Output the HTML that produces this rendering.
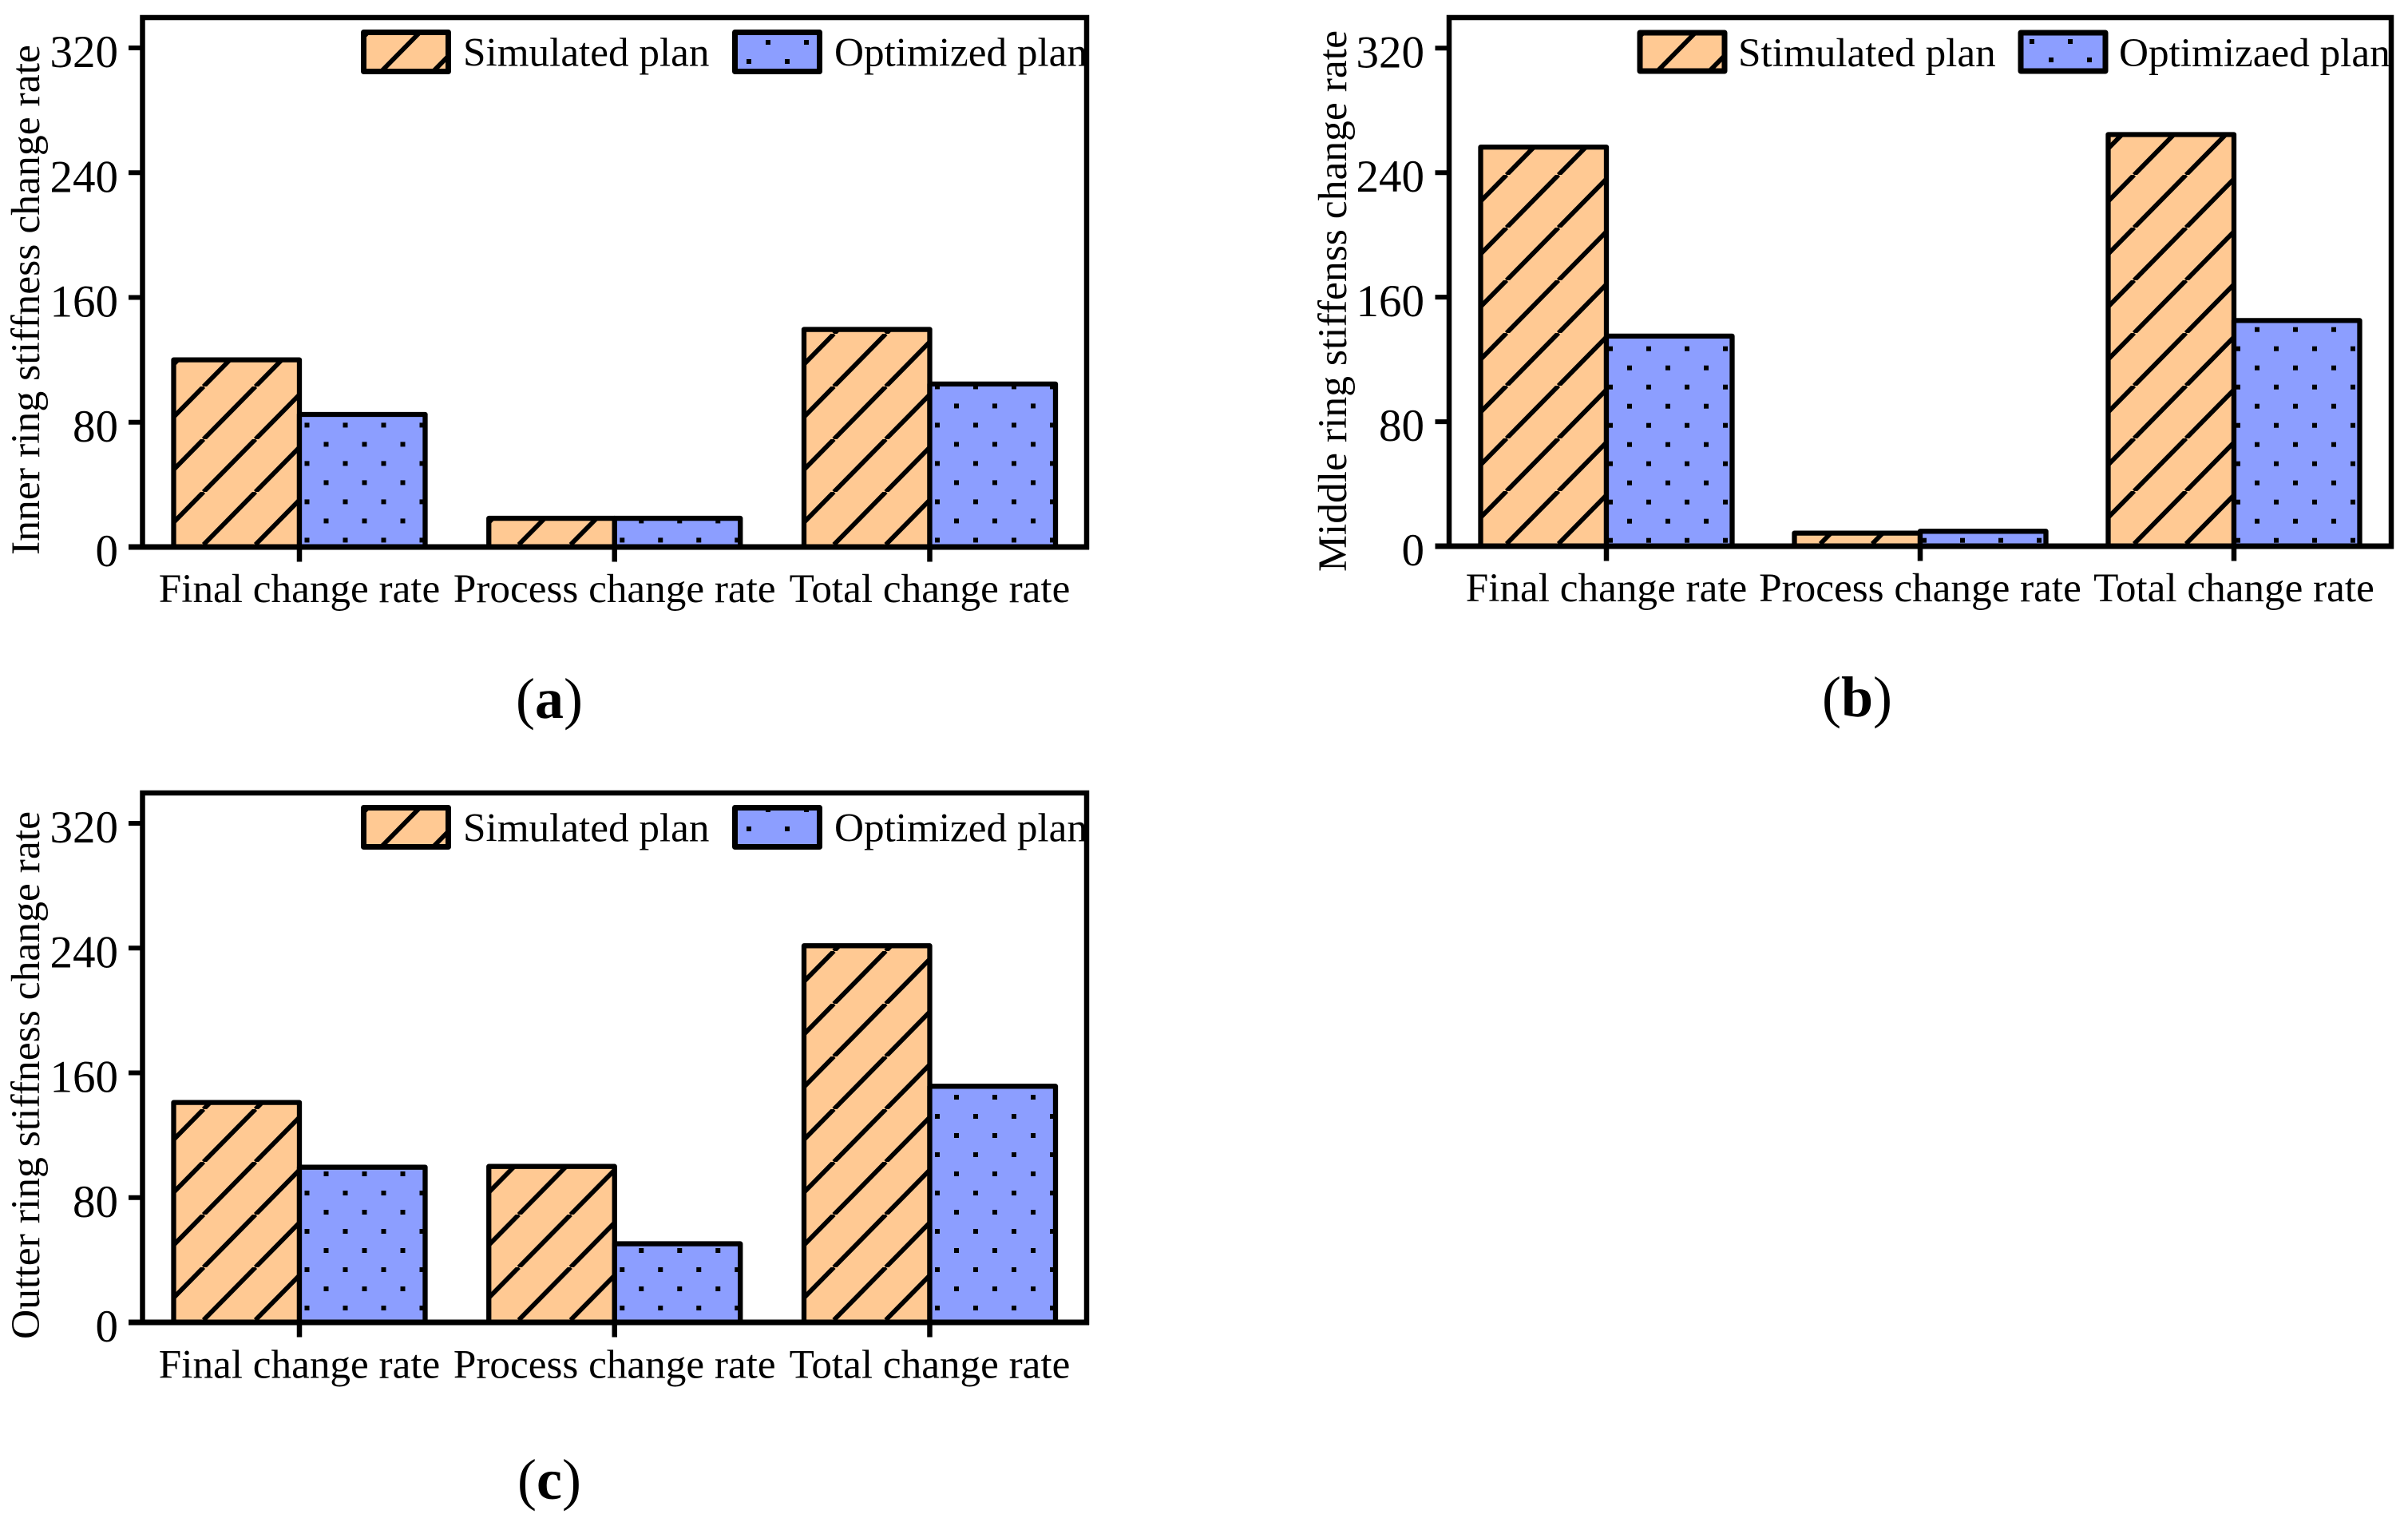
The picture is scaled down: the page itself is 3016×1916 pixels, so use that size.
<!DOCTYPE html>
<html lang="en">
<head>
<meta charset="utf-8">
<title>Ring stiffness change rate charts</title>
<style>
html,body{margin:0;padding:0;background:#fff;}
svg{display:block;}
text{font-family:"Liberation Serif","Times New Roman",serif;fill:#000;}
.leg,.xl{font-size:51.2px;}
.ttl{font-size:51px;}
.yl{font-size:57px;text-anchor:end;}
.cap{font-size:72px;text-anchor:middle;}
.frame{fill:none;stroke:#000;stroke-width:6.5;}
.sw{stroke:#000;stroke-width:7;stroke-linejoin:round;}
.hl{stroke:#000;stroke-width:5.8;fill:none;}
</style>
</head>
<body>
<svg id="root" xmlns="http://www.w3.org/2000/svg" width="3016" height="1916" viewBox="0 0 3016 1916">
<rect width="3016" height="1916" fill="#fff"/>
<defs id="defs">
  <pattern id="lh-a" patternUnits="userSpaceOnUse" x="455.5" y="23" width="65" height="66"><rect width="65" height="66" fill="#FFC993"/><path class="hl" d="M-42.5 66L22.5 0M22.5 66L87.5 0"/></pattern>
  <pattern id="ld-a" patternUnits="userSpaceOnUse" x="920.5" y="41" width="48" height="48"><rect width="48" height="48" fill="#8C9EFF"/><rect x="14.5" y="33" width="6" height="6"/><rect x="38.5" y="9" width="6" height="6"/></pattern>
  <pattern id="lh-b" patternUnits="userSpaceOnUse" x="2054" y="23" width="65" height="66"><rect width="65" height="66" fill="#FFC993"/><path class="hl" d="M-43 66L22 0M22 66L87 0"/></pattern>
  <pattern id="ld-b" patternUnits="userSpaceOnUse" x="2531" y="39" width="48" height="48"><rect width="48" height="48" fill="#8C9EFF"/><rect x="35" y="33" width="6" height="6"/><rect x="11" y="10" width="6" height="6"/></pattern>
  <pattern id="lh-c" patternUnits="userSpaceOnUse" x="455.5" y="994" width="65" height="66"><rect width="65" height="66" fill="#FFC993"/><path class="hl" d="M-42.5 66L22.5 0M22.5 66L87.5 0"/></pattern>
  <pattern id="ld-c" patternUnits="userSpaceOnUse" x="920.5" y="1002" width="48" height="48"><rect width="48" height="48" fill="#8C9EFF"/><rect x="14.5" y="33" width="6" height="6"/><rect x="38.5" y="9" width="6" height="6"/></pattern>
</defs>

<g id="panel-a">
  <g id="marks-a"></g>
  <rect class="frame" x="178.5" y="22" width="1182.5" height="663"/>
  <g id="axes-a"></g>
  <text class="ttl" transform="translate(49,695) rotate(-90)" textLength="639" lengthAdjust="spacingAndGlyphs">Inner ring stiffness change rate</text>
  <rect class="sw" x="455.5" y="40.5" width="106" height="49" fill="url(#lh-a)"/>
  <text class="leg" x="580" y="82.5">Simulated plan</text>
  <rect class="sw" x="920.5" y="40.5" width="106" height="49" fill="url(#ld-a)"/>
  <text class="leg" x="1045" y="82.5">Optimized plan</text>
  <text class="cap" x="688" y="899">(<tspan font-weight="bold">a</tspan>)</text>
</g>

<g id="panel-b">
  <g id="marks-b"></g>
  <rect class="frame" x="1815" y="22" width="1180" height="662"/>
  <g id="axes-b"></g>
  <text class="ttl" transform="translate(1686,716) rotate(-90)" textLength="678" lengthAdjust="spacingAndGlyphs">Middle ring stiffenss change rate</text>
  <rect class="sw" x="2054" y="41" width="106" height="48" fill="url(#lh-b)"/>
  <text class="leg" x="2177" y="83">Stimulated plan</text>
  <rect class="sw" x="2531" y="41" width="106" height="48" fill="url(#ld-b)"/>
  <text class="leg" x="2654" y="83">Optimizaed plan</text>
  <text class="cap" x="2326" y="897">(<tspan font-weight="bold">b</tspan>)</text>
</g>

<g id="panel-c">
  <g id="marks-c"></g>
  <rect class="frame" x="178.5" y="993" width="1182.5" height="663"/>
  <g id="axes-c"></g>
  <text class="ttl" transform="translate(49,1677) rotate(-90)" textLength="661" lengthAdjust="spacingAndGlyphs">Outter ring stiffness change rate</text>
  <rect class="sw" x="455.5" y="1011.5" width="106" height="49" fill="url(#lh-c)"/>
  <text class="leg" x="580" y="1053.5">Simulated plan</text>
  <rect class="sw" x="920.5" y="1011.5" width="106" height="49" fill="url(#ld-c)"/>
  <text class="leg" x="1045" y="1053.5">Optimized plan</text>
  <text class="cap" x="688" y="1877">(<tspan font-weight="bold">c</tspan>)</text>
</g>
</svg>

<script>
// Data
const categories = ['Final change rate', 'Process change rate', 'Total change rate'];
const yTicks = [0, 80, 160, 240, 320];
const innerSimulated = [120, 18.4, 139.5];
const innerOptimized = [85, 18.4, 104.5];
const middleSimulated = [256.4, 8.4, 264.5];
const middleOptimized = [135, 9.6, 145];
const outerSimulated = [141, 100, 241.5];
const outerOptimized = [99.5, 50.4, 151.4];

// Panel geometry
const panelA = {id:'a', sim:innerSimulated, opt:innerOptimized, left:178.5, y0:685, y320:60, barLeft:217.5, barW:157.5, step:394.75, tickLabelX:148, labelBase:754, hatchPhase:37.5, dotX:9.5, dotY:8.6};
const panelB = {id:'b', sim:middleSimulated, opt:middleOptimized, left:1815, y0:684, y320:60.3, barLeft:1854.5, barW:157.5, step:393, tickLabelX:1784, labelBase:753, hatchPhase:32.5, dotX:5, dotY:7.3};
const panelC = {id:'c', sim:outerSimulated, opt:outerOptimized, left:178.5, y0:1656, y320:1031, barLeft:217.5, barW:157.5, step:394.75, tickLabelX:148, labelBase:1725.5, hatchPhase:37.5, dotX:9.5, dotY:18};

const NS = 'http://www.w3.org/2000/svg';
const defs = document.getElementById('defs');

function make(tag, attrs) {
  const el = document.createElementNS(NS, tag);
  for (const k in attrs) el.setAttribute(k, attrs[k]);
  return el;
}
function yScale(p, v) { return p.y0 - v * (p.y0 - p.y320) / 320; }
function groupX(p, i) { return p.barLeft + i * p.step; }

function hatchPattern(id, x, baseline, phase) {
  const W = 65, H = 66;
  const pat = make('pattern', {id: id, patternUnits: 'userSpaceOnUse', x: x, y: baseline - H, width: W, height: H});
  pat.appendChild(make('rect', {width: W, height: H, fill: '#FFC993'}));
  const line = make('path', {d: `M${phase - W} ${H}L${phase} 0M${phase} ${H}L${phase + W} 0M${phase + W} ${H}L${phase + 2 * W} 0`, stroke: '#000', 'stroke-width': 5.8, fill: 'none'});
  pat.appendChild(line);
  defs.appendChild(pat);
}
function dotPattern(id, x, baseline, dotX, dotY) {
  const W = 48, H = 48;
  const pat = make('pattern', {id: id, patternUnits: 'userSpaceOnUse', x: x, y: baseline - H, width: W, height: H});
  pat.appendChild(make('rect', {width: W, height: H, fill: '#8C9EFF'}));
  pat.appendChild(make('rect', {x: dotX - 3, y: H - dotY - 3, width: 6, height: 6}));
  pat.appendChild(make('rect', {x: dotX + 21, y: H - dotY - 27, width: 6, height: 6}));
  defs.appendChild(pat);
}

function drawPanel(p) {
  const marks = document.getElementById('marks-' + p.id);
  const axes = document.getElementById('axes-' + p.id);
  categories.forEach(function (cat, i) {
    const x = groupX(p, i);
    const mid = x + p.barW;
    const hid = 'hatch-' + p.id + i;
    const did = 'dots-' + p.id + i;
    hatchPattern(hid, x, p.y0 - 3, p.hatchPhase);
    dotPattern(did, mid, p.y0, p.dotX, p.dotY);

    const ys = yScale(p, p.sim[i]);
    const simBar = make('rect', {x: x, y: ys, width: p.barW, height: p.y0 - ys, fill: 'url(#' + hid + ')', stroke: '#000', 'stroke-width': 6.3, 'stroke-linejoin': 'round'});
    
    
    marks.appendChild(simBar);

    const yo = yScale(p, p.opt[i]);
    const optBar = make('rect', {x: mid, y: yo, width: p.barW, height: p.y0 - yo, fill: 'url(#' + did + ')', stroke: '#000', 'stroke-width': 6.3, 'stroke-linejoin': 'round'});
    
    
    marks.appendChild(optBar);

    const tick = make('line', {x1: mid, x2: mid, y1: p.y0, y2: p.y0 + 18.5, stroke: '#000', 'stroke-width': 6.5});
    
    
    axes.appendChild(tick);

    const label = make('text', {x: mid, y: p.labelBase, class: 'xl', 'text-anchor': 'middle'});
    
    
    label.textContent = cat;
    axes.appendChild(label);
  });

  yTicks.forEach(function (v) {
    const y = yScale(p, v);
    const tick = make('line', {x1: p.left - 17.5, x2: p.left, y1: y, y2: y, stroke: '#000', 'stroke-width': 6});
    
    
    axes.appendChild(tick);

    const label = make('text', {x: p.tickLabelX, y: y + 24, class: 'yl'});
    
    
    label.textContent = String(v);
    axes.appendChild(label);
  });

  const frameRight = p.id === 'b' ? 2998 : 1364;
  const base = make('line', {x1: p.left - 17.5, x2: frameRight, y1: p.y0, y2: p.y0, stroke: '#000', 'stroke-width': 7});
  
  
  axes.appendChild(base);
}

drawPanel(panelA);
drawPanel(panelB);
drawPanel(panelC);
</script>
</body>
</html>
